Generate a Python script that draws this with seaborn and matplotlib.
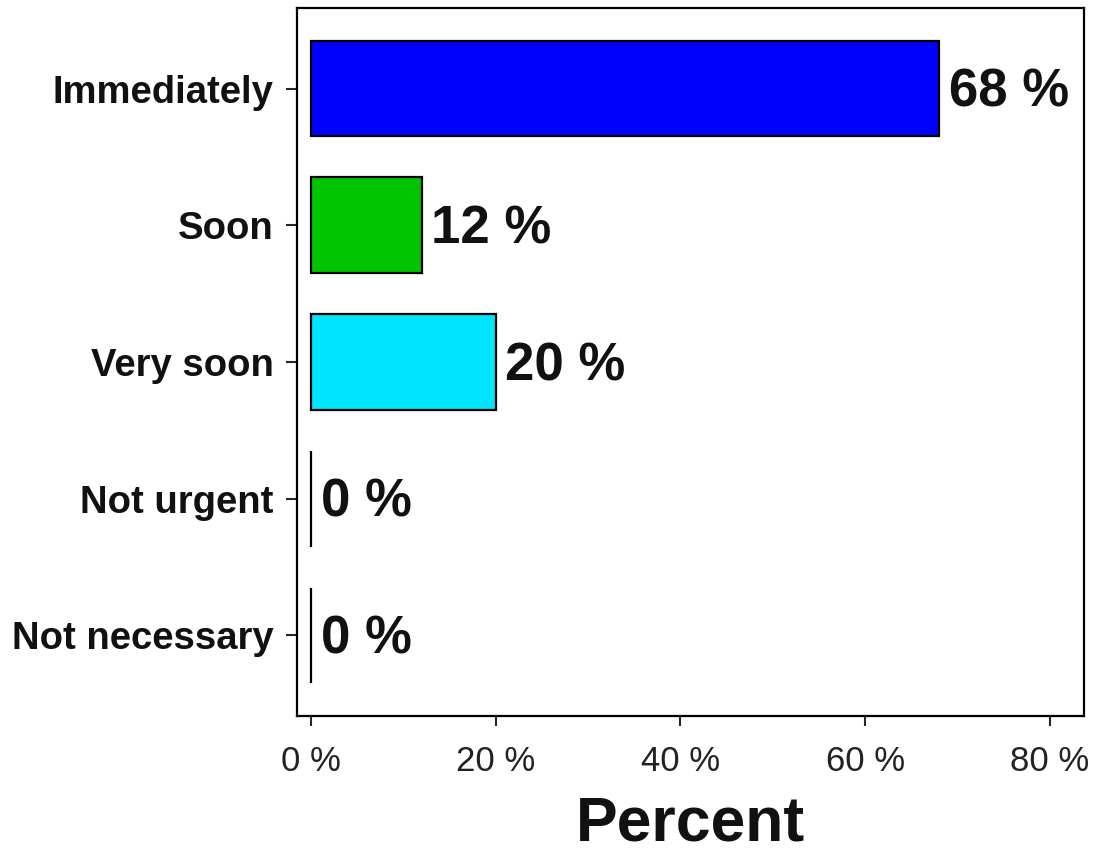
import matplotlib
matplotlib.use("Agg")
import matplotlib.pyplot as plt
import seaborn as sns
import pandas as pd

# Survey answers: how soon action is needed
categories = ["Immediately", "Soon", "Very soon", "Not urgent", "Not necessary"]
percent = [68, 12, 20, 0, 0]
bar_colors = ["#0000FF", "#00C400", "#00E5FF", "#FFFFFF", "#FFFFFF"]
x_ticks = [0, 20, 40, 60, 80]
x_tick_labels = ["0 %", "20 %", "40 %", "60 %", "80 %"]

sns.set_style("white")
plt.rcParams["font.family"] = ["Liberation Sans", "DejaVu Sans"]

df = pd.DataFrame({"category": categories, "percent": percent})

fig = plt.figure(figsize=(10.98, 8.52), dpi=100)
ax = fig.add_axes([0.2705, 0.1596, 0.7168, 0.831])

sns.barplot(
    data=df, x="percent", y="category", hue="category",
    palette=dict(zip(categories, bar_colors)), order=categories,
    orient="h", width=0.7, edgecolor="black", linewidth=1.6,
    saturation=1, legend=False, ax=ax,
)

# value labels to the right of each bar
for i, v in enumerate(percent):
    ax.annotate(f"{v} %", xy=(v, i), xytext=(7, -3), textcoords="offset points",
                ha="left", va="center", fontsize=38, fontweight="bold",
                color="#111111")

ax.set_xlim(-1.5, 83.7)
ax.set_ylim(4.59, -0.59)
ax.set_xticks(x_ticks)
ax.set_xticklabels(x_tick_labels, fontsize=25, color="#222222")
ax.set_yticks(range(len(categories)))
ax.set_yticklabels(categories, fontsize=27.5, fontweight="bold", color="#111111")
ax.set_ylabel("")
ax.set_xlabel("Percent", fontsize=45, fontweight="bold", color="#111111", labelpad=12)

ax.tick_params(axis="y", length=8, width=1.5, pad=9, left=True)
ax.tick_params(axis="x", length=7, width=1.5, pad=14, bottom=True)
for s in ax.spines.values():
    s.set_visible(True)
    s.set_linewidth(1.6)
    s.set_color("black")

fig.savefig("out.png", dpi=100)
